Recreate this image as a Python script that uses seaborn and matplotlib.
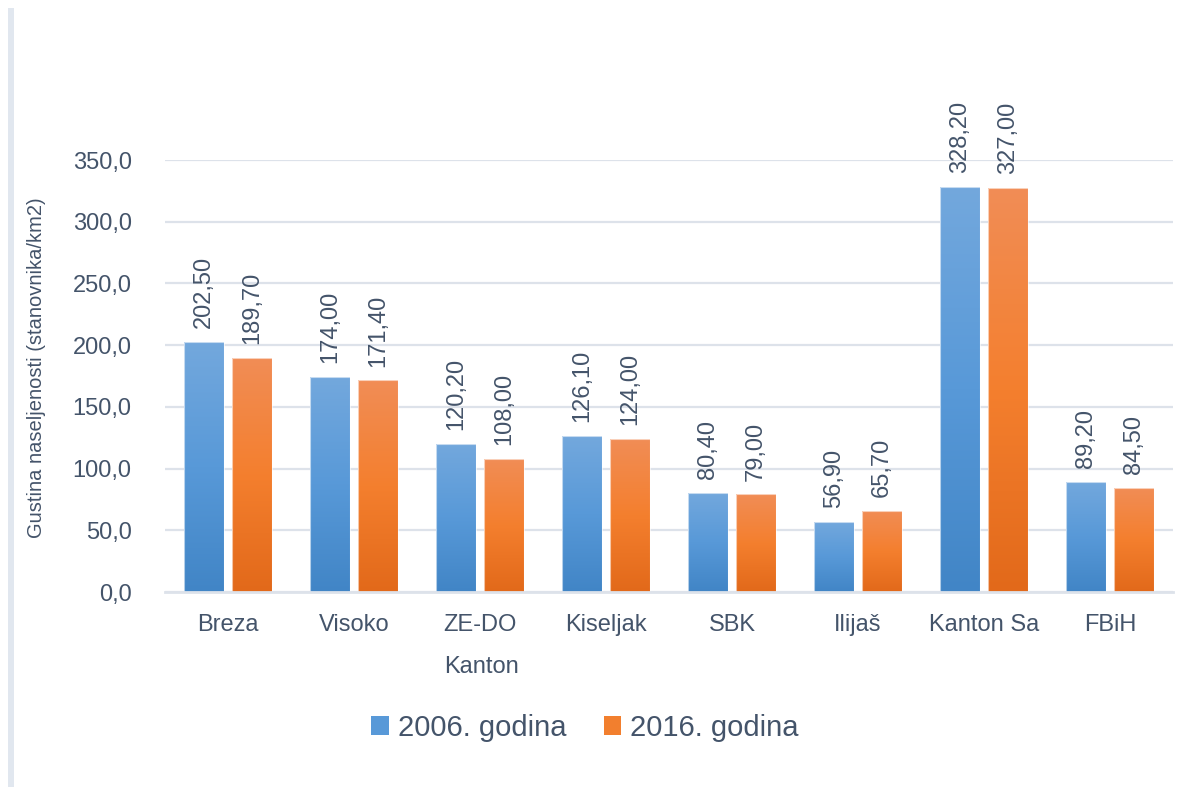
import matplotlib
matplotlib.use('Agg')
import matplotlib.pyplot as plt
import seaborn as sns
import numpy as np
import pandas as pd
from matplotlib.colors import LinearSegmentedColormap
from matplotlib.patches import Patch, Rectangle
from matplotlib.ticker import FuncFormatter

categories = ['Breza', 'Visoko', 'ZE-DO', 'Kiseljak', 'SBK', 'Ilijaš', 'Kanton Sa', 'FBiH']
series = ['2006. godina', '2016. godina']
vals_2006 = [202.5, 174.0, 120.2, 126.1, 80.4, 56.9, 328.2, 89.2]
vals_2016 = [189.7, 171.4, 108.0, 124.0, 79.0, 65.7, 327.0, 84.5]
y_ticks = [0, 50, 100, 150, 200, 250, 300, 350]

BLUE = '#5899D8'
ORANGE = '#F27F2E'
BLUE_GRAD = ['#4185C6', '#5899D8', '#73A8DD']     # bottom -> top
ORANGE_GRAD = ['#E2691A', '#F47F2E', '#F18D56']
TXT = '#44546A'
GRID = '#DDE2EA'

sns.set_theme(style='white')
plt.rcParams['font.family'] = ['Liberation Sans', 'DejaVu Sans']

W, H = 1192, 787
fig = plt.figure(figsize=(W / 100, H / 100), dpi=100)
ax = fig.add_axes([165 / W, 1 - 592 / H, 1008 / W, 432 / H])

df = pd.DataFrame({
    'Kanton': categories * 2,
    'Godina': [series[0]] * len(categories) + [series[1]] * len(categories),
    'Value': vals_2006 + vals_2016,
})

sns.barplot(data=df, x='Kanton', y='Value', hue='Godina', order=categories,
            hue_order=series, palette=[BLUE, ORANGE], width=0.76, gap=0.18,
            saturation=1, errorbar=None, legend=False, ax=ax, zorder=2)

ax.set_ylim(0, 350)
ax.set_xlim(-0.5, len(categories) - 0.5)

# gradient fills
cmaps = [LinearSegmentedColormap.from_list('b', BLUE_GRAD),
         LinearSegmentedColormap.from_list('o', ORANGE_GRAD)]
grad = np.linspace(0, 1, 256).reshape(-1, 1)
for ci, cont in enumerate(ax.containers):
    for p in cont.patches:
        x0, y0 = p.get_x(), p.get_y()
        w, h = p.get_width(), p.get_height()
        im = ax.imshow(grad, cmap=cmaps[ci], origin='lower', aspect='auto',
                       extent=[x0, x0 + w, y0, y0 + h], zorder=2.1,
                       interpolation='bilinear')
        im.set_clip_path(p)
        p.set_facecolor('none')
        p.set_edgecolor((1, 1, 1, 0.6))
        p.set_linewidth(0.8)
        p.set_zorder(2.2)
    labels = [f'{v:.2f}'.replace('.', ',') for v in cont.datavalues]
    ax.bar_label(cont, labels=labels, rotation=90, padding=10, color=TXT,
                 fontsize=17, clip_on=False)

ax.set_ylim(0, 350)
ax.set_xlim(-0.5, len(categories) - 0.5)

ax.set_yticks(y_ticks)
ax.yaxis.set_major_formatter(FuncFormatter(lambda v, _: f'{v:.1f}'.replace('.', ',')))
ax.grid(axis='y', color=GRID, linewidth=1.6)
ax.set_axisbelow(True)
for s in ['top', 'right', 'left']:
    ax.spines[s].set_visible(False)
ax.spines['bottom'].set_color(GRID)
ax.spines['bottom'].set_linewidth(2)
ax.spines['bottom'].set_zorder(3)
ax.tick_params(axis='both', length=0, labelsize=17, colors=TXT)
ax.tick_params(axis='y', pad=24)
ax.tick_params(axis='x', pad=16)
ax.set_xlabel('')
ax.set_ylabel('')

fig.text(37 / W, 1 - 368 / H, 'Gustina naseljenosti (stanovnika/km2)', rotation=90,
         ha='center', va='center', fontsize=14.5, color=TXT)
fig.text(481 / W, 1 - 667 / H, 'Kanton', ha='center', va='center', fontsize=17, color=TXT)

handles = [Patch(facecolor=BLUE, edgecolor='none'), Patch(facecolor=ORANGE, edgecolor='none')]
fig.legend(handles, series, loc='center', bbox_to_anchor=(585 / W, 1 - 728 / H), ncol=2,
           frameon=False, fontsize=21, labelcolor=TXT, handlelength=0.6,
           handleheight=0.6, handletextpad=0.3, columnspacing=1.3)

fig.add_artist(Rectangle((8 / W, 0), 6 / W, 1 - 8 / H, transform=fig.transFigure,
                         facecolor='#E1E7EF', edgecolor='none'))

fig.savefig('out.png', dpi=100)
